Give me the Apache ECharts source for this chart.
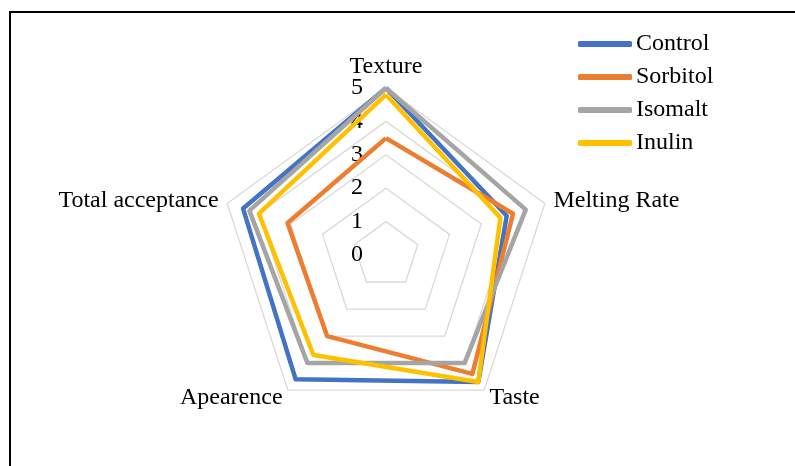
<!DOCTYPE html>
<html>
<head>
<meta charset="utf-8">
<script src="https://cdn.jsdelivr.net/npm/echarts@6/dist/echarts.min.js"></script>
<style>
  html, body { margin: 0; padding: 0; background: #fff; }
  #wrap { position: relative; width: 795px; height: 466px; overflow: hidden; }
  #chart { position: absolute; left: 0; top: 0; width: 795px; height: 466px; }
  .frame {
    position: absolute; left: 9px; top: 11px; right: -5px; bottom: -5px;
    border-top: 2px solid #000; border-left: 2px solid #000;
    pointer-events: none;
  }
</style>
</head>
<body>
<div id="wrap">
  <div id="chart"></div>
  <div class="frame"></div>
</div>
<script>
// categories, clockwise from the top as in the reference
const categories = ['Texture', 'Melting Rate', 'Taste', 'Apearence', 'Total acceptance']
const seriesNames = ['Control', 'Sorbitol', 'Isomalt', 'Inulin']
const control = [5.0, 3.8, 4.7, 4.6, 4.5]
const sorbitol = [3.5, 4.0, 4.4, 3.0, 3.1]
const isomalt = [5.0, 4.4, 4.0, 4.0, 4.3]
const inulin = [4.8, 3.6, 4.7, 3.7, 4.0]
const tickLabels = ['0', '1', '2', '3', '4', '5']
const colors = ['#4472C4', '#ED7D31', '#A5A5A5', '#FFC000']

const font = '"Liberation Serif", "Times New Roman", serif'

// echarts lays indicators out counter-clockwise, so flip the order
const order = [0, 4, 3, 2, 1]
const reorder = arr => order.map(i => arr[i])

const chart = echarts.init(document.getElementById('chart'))

const option = {
  animation: false,
  color: colors,
  legend: {
    orient: 'vertical',
    left: 573,
    top: 27,
    itemWidth: 54,
    itemHeight: 6,
    itemGap: 9,
    icon: 'roundRect',
    data: seriesNames,
    textStyle: { fontFamily: font, fontSize: 24, color: '#000', lineHeight: 24, padding: [0, 0, 0, -1] }
  },
  radar: {
    center: [386, 255],
    radius: 167,
    shape: 'polygon',
    splitNumber: 5,
    nameGap: 9,
    axisName: { color: '#000', fontFamily: font, fontSize: 24 },
    axisLine: { show: false },
    axisTick: { show: false },
    axisLabel: { show: false },
    splitArea: { show: false },
    splitLine: { lineStyle: { color: '#d9d9d9', width: 1.3 } },
    indicator: reorder(categories).map(name => ({ name: name, min: 0, max: 5 }))
  },
  // value labels along the Texture axis
  grid: { left: 375, top: 88, width: 20, height: 167 },
  xAxis: { type: 'value', show: false },
  yAxis: {
    type: 'value',
    min: 0,
    max: 5,
    interval: 1,
    axisLine: { show: false },
    axisTick: { show: false },
    splitLine: { show: false },
    axisLabel: {
      margin: 12,
      color: '#000',
      fontFamily: font,
      fontSize: 24,
      formatter: v => tickLabels[v]
    }
  },
  series: [{
    type: 'radar',
    symbol: 'none',
    lineStyle: { width: 4.5, join: 'round' },
    data: [control, sorbitol, isomalt, inulin].map((vals, i) => ({
      name: seriesNames[i],
      value: reorder(vals),
      lineStyle: { color: colors[i], width: 4.5, join: 'round' },
      itemStyle: { color: colors[i] }
    }))
  }]
}

chart.setOption(option)
</script>
</body>
</html>
